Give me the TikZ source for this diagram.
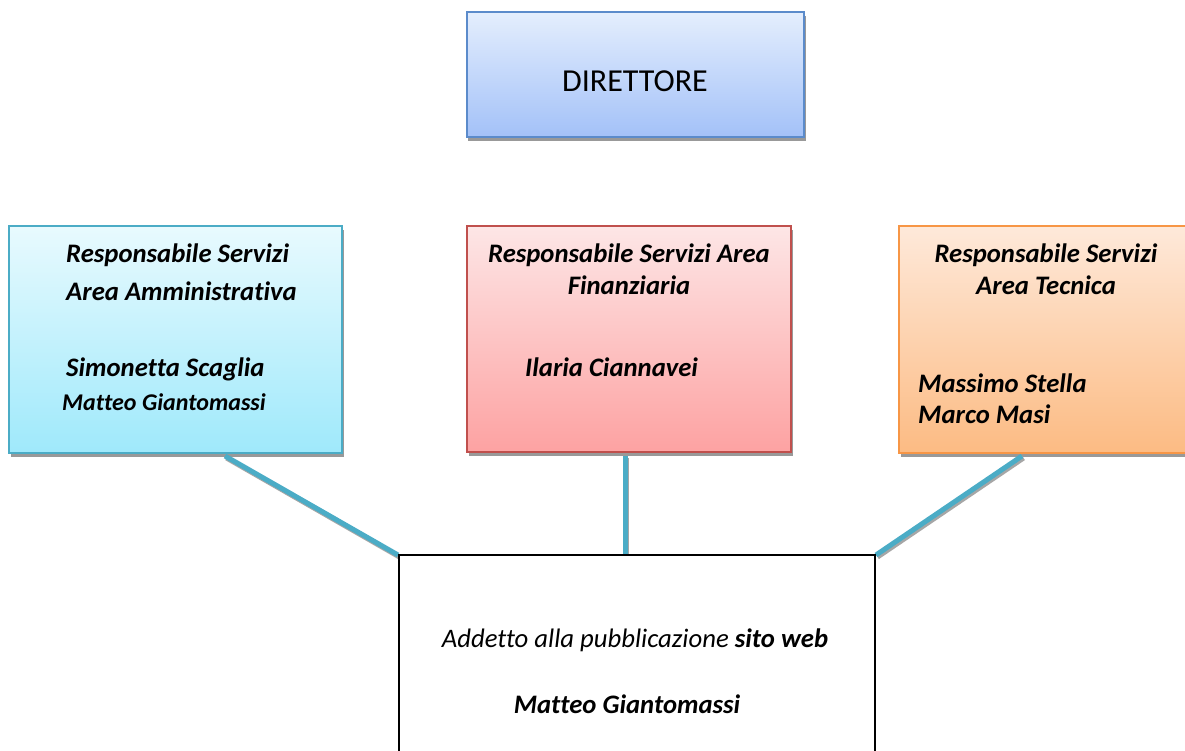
\documentclass[tikz,border=0pt]{standalone}
\usepackage{fontspec}
\setmainfont{Carlito}[Ligatures=NoCommon]
\definecolor{dirtop}{HTML}{E4EEFD}
\definecolor{dirbot}{HTML}{A3C1F8}
\definecolor{dirline}{HTML}{5B8BCB}
\definecolor{amtop}{HTML}{E8FAFE}
\definecolor{ambot}{HTML}{9FE9FB}
\definecolor{amline}{HTML}{4BACC6}
\definecolor{fitop}{HTML}{FDE6E6}
\definecolor{fibot}{HTML}{FDA2A2}
\definecolor{filine}{HTML}{C0504D}
\definecolor{tetop}{HTML}{FEE9DA}
\definecolor{tebot}{HTML}{FCBB83}
\definecolor{teline}{HTML}{F79646}
\definecolor{conn}{HTML}{4BACC6}
\tikzset{
  box/.style={draw, rectangle, line width=1.2pt, inner sep=0pt},
  boxshadow/.style={rectangle, fill=black!40, draw=none, inner sep=0pt},
  lbl/.style={inner sep=0pt, font=\fontsize{26.7}{31}\selectfont\bfseries\itshape},
  lblsmall/.style={inner sep=0pt, font=\fontsize{24}{28}\selectfont\bfseries\itshape},
  conline/.style={draw=conn, line width=5pt},
  conshadow/.style={draw=black!35, line width=5pt},
}
\begin{document}
\begin{tikzpicture}[x=1pt,y=-1pt]
\clip (0,0) rectangle (1185,751);
\fill[white] (0,0) rectangle (1185,751);
% shadows
\node[boxshadow, minimum width=338pt, minimum height=125pt] (dirS) at (637,79) {};
\node[boxshadow, minimum width=333pt, minimum height=227pt] (amS) at (177,343.5) {};
\node[boxshadow, minimum width=324pt, minimum height=226pt] (fiS) at (630.5,343) {};
\node[boxshadow, minimum width=296pt, minimum height=227pt] (teS) at (1048.5,343.5) {};
% boxes
\node[box, draw=dirline, top color=dirtop, bottom color=dirbot, minimum width=337pt, minimum height=125pt] (dir) at (635.5,74.5) {};
\node[box, draw=amline, top color=amtop, bottom color=ambot, minimum width=333pt, minimum height=227pt] (am) at (175.5,339.5) {};
\node[box, draw=filine, top color=fitop, bottom color=fibot, minimum width=324pt, minimum height=226pt] (fi) at (629,339) {};
\node[box, draw=teline, top color=tetop, bottom color=tebot, minimum width=296pt, minimum height=227pt] (te) at (1047,339.5) {};
% connector ends
\coordinate (c1a) at (225,456);
\coordinate (c1b) at (398,555);
\coordinate (c2a) at (625,456);
\coordinate (c2b) at (625,555);
\coordinate (c3a) at (1022,456);
\coordinate (c3b) at (876,555);
\coordinate (s1a) at (226.5,458);
\coordinate (s1b) at (399.5,557);
\coordinate (s2a) at (626.5,458);
\coordinate (s2b) at (626.5,557);
\coordinate (s3a) at (1023.5,458);
\coordinate (s3b) at (877.5,557);
\draw[conshadow] (s1a) -- (s1b);
\draw[conshadow] (s2a) -- (s2b);
\draw[conshadow] (s3a) -- (s3b);
\draw[conline] (c1a) -- (c1b);
\draw[conline] (c2a) -- (c2b);
\draw[conline] (c3a) -- (c3b);
% bottom box
\node[box, draw=black, fill=white, line width=1.3pt, minimum width=476pt, minimum height=215pt] (web) at (637,662.5) {};
% texts
\node[inner sep=0pt, anchor=base, font=\fontsize{32}{37}\selectfont] (dirT) at (635,92) {DIRETTORE};
\node[lbl, anchor=base west] (am1) at (66,262) {Responsabile Servizi};
\node[lbl, anchor=base west] (am2) at (66,300) {Area Amministrativa};
\node[lbl, anchor=base west] (am3) at (66,376) {Simonetta Scaglia};
\node[lblsmall, anchor=base west] (am4) at (62,410) {Matteo Giantomassi};
\node[lbl, anchor=base] (fi1) at (629,262) {Responsabile Servizi Area};
\node[lbl, anchor=base] (fi2) at (629,294) {Finanziaria};
\node[lbl, anchor=base west] (fi3) at (525,376) {Ilaria Ciannavei};
\node[lbl, anchor=base] (te1) at (1046,262) {Responsabile Servizi};
\node[lbl, anchor=base] (te2) at (1046,294) {Area Tecnica};
\node[lbl, anchor=base west] (te3) at (918,392) {Massimo Stella};
\node[lbl, anchor=base west] (te4) at (918,423) {Marco Masi};
\node[inner sep=0pt, anchor=base, font=\fontsize{26.7}{31}\selectfont\itshape] (web1) at (635,647) {Addetto alla pubblicazione \textbf{sito web}};
\node[lbl, anchor=base] (web2) at (627,713) {Matteo Giantomassi};
\end{tikzpicture}
\end{document}
